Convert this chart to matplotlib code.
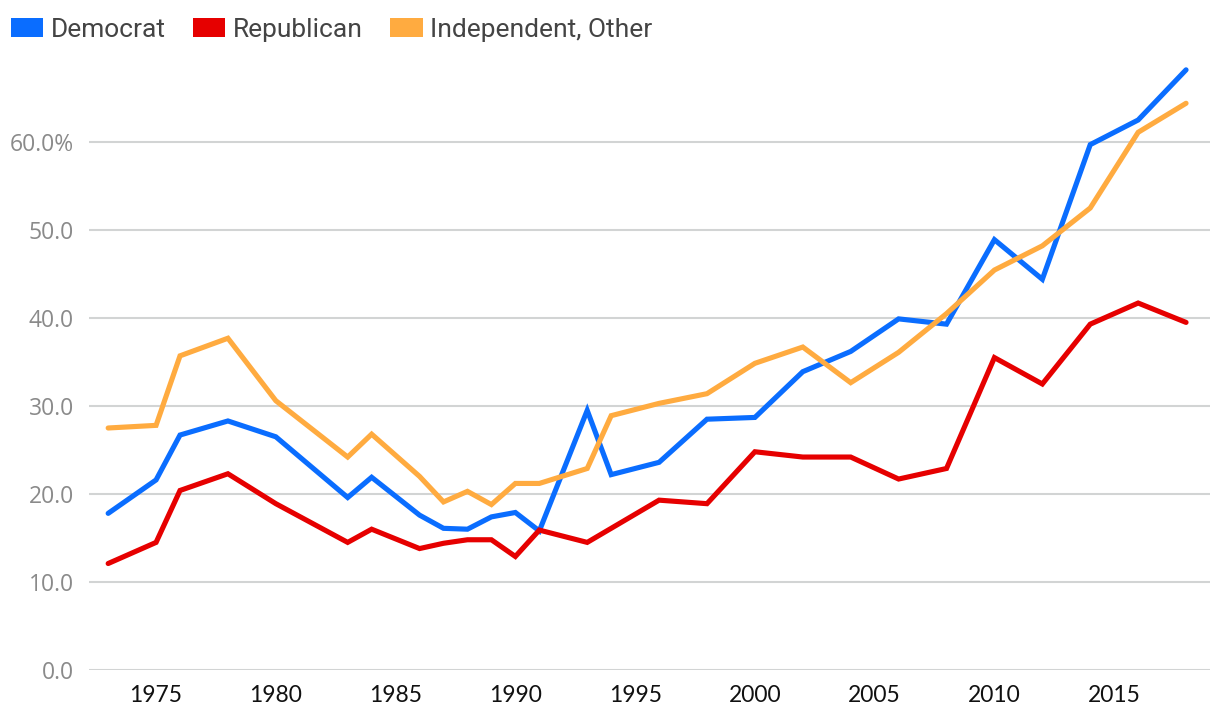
#!/usr/bin/env python3
"""Share of party identifiers, GSS survey years 1973-2018."""

import matplotlib

matplotlib.use("Agg")
import matplotlib.pyplot as plt
from matplotlib.patches import Patch

years = [1973, 1975, 1976, 1978, 1980, 1983, 1984, 1986, 1987, 1988, 1989,
         1990, 1991, 1993, 1994, 1996, 1998, 2000, 2002, 2004, 2006, 2008,
         2010, 2012, 2014, 2016, 2018]

democrat = [17.8, 21.6, 26.7, 28.3, 26.5, 19.6, 21.9, 17.6, 16.1, 16.0, 17.4,
            17.9, 15.8, 29.5, 22.2, 23.6, 28.5, 28.7, 33.9, 36.2, 39.9, 39.3,
            48.9, 44.4, 59.7, 62.5, 68.2]

republican = [12.1, 14.5, 20.4, 22.3, 18.9, 14.5, 16.0, 13.8, 14.4, 14.8, 14.8,
              12.9, 15.9, 14.5, 16.1, 19.3, 18.9, 24.8, 24.2, 24.2, 21.7, 22.9,
              35.5, 32.5, 39.3, 41.7, 39.5]

independent = [27.5, 27.8, 35.7, 37.7, 30.6, 24.2, 26.8, 22.0, 19.1, 20.3, 18.8,
               21.2, 21.2, 22.9, 28.9, 30.3, 31.4, 34.85, 36.7, 32.65, 36.1, 40.5,
               45.45, 48.2, 52.5, 61.1, 64.4]

series_names = ["Democrat", "Republican", "Independent, Other"]
series_colors = ["#0a6dff", "#e60000", "#ffab40"]

y_ticks = [0, 10, 20, 30, 40, 50, 60]
x_ticks = [1975, 1980, 1985, 1990, 1995, 2000, 2005, 2010, 2015]

W, H = 1220, 720
fig = plt.figure(figsize=(W / 100, H / 100), dpi=100)
ymax = 71.0
ax_left, ax_right, ax_bottom = 89, 1210, 670
ax_top = ax_bottom - ymax * 8.8
ax = fig.add_axes([ax_left / W, (H - ax_bottom) / H,
                   (ax_right - ax_left) / W, (ax_bottom - ax_top) / H])

for vals, name, color in zip([democrat, republican, independent], series_names, series_colors):
    ax.plot(years, vals, color=color, lw=3.7, solid_capstyle="round",
            solid_joinstyle="miter", label=name, zorder=3)

ax.set_xlim(1972.2, 2019.0)
ax.set_ylim(0, ymax)
ax.set_yticks(y_ticks)
ax.set_yticklabels([f"{v:.1f}%" if v == 60 else f"{v:.1f}" for v in y_ticks],
                   fontsize=16.5, color="#8a8a8a", family=["Open Sans", "DejaVu Sans"])
ax.set_xticks(x_ticks)
ax.set_xticklabels([str(v) for v in x_ticks], fontsize=16.5, color="#111111",
                   family=["Lato", "DejaVu Sans"])
ax.tick_params(axis="both", length=0)
ax.tick_params(axis="y", pad=11)
ax.tick_params(axis="x", pad=11)
ax.grid(axis="y", color="#d2d4d4", lw=1.5, zorder=0)
ax.set_axisbelow(True)
for spine in ax.spines.values():
    spine.set_visible(False)

handles = [Patch(facecolor=c, edgecolor="none") for c in series_colors]
leg = fig.legend(handles, series_names, loc="upper left",
                 bbox_to_anchor=(3 / W, 1 - 10 / H), ncol=3, frameon=False,
                 prop={"family": ["Roboto", "DejaVu Sans"], "size": 19},
                 handlelength=1.22, handleheight=0.72, handletextpad=0.28,
                 columnspacing=1.05, borderaxespad=0, borderpad=0.3)
for t in leg.get_texts():
    t.set_color("#444444")

fig.savefig("out.png", dpi=100)
